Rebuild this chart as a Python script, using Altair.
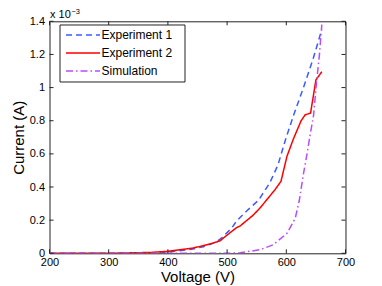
import altair as alt
import pandas as pd

# ---- data (current in units of 1e-3 A) ----
exp1_v = [200, 300, 350, 400, 440, 460, 480, 491, 508, 516, 533, 553, 572, 586, 599, 612, 629, 645, 660]
exp1_i = [0, 0, 0.001, 0.006, 0.025, 0.040, 0.065, 0.093, 0.153, 0.195, 0.255, 0.32, 0.424, 0.534, 0.69, 0.83, 1.0, 1.17, 1.35]

exp2_v = [200, 300, 370, 400, 443, 470, 488, 500, 516, 522, 544, 556, 567, 581, 591, 601, 612, 625, 632, 641, 650, 660]
exp2_i = [0, 0, 0.005, 0.012, 0.032, 0.055, 0.075, 0.11, 0.155, 0.165, 0.23, 0.275, 0.323, 0.384, 0.434, 0.584, 0.69, 0.80, 0.836, 0.846, 1.046, 1.096]

sim_v = [200, 400, 500, 522, 556, 578, 601, 615, 622, 629, 635, 640, 646, 651, 656, 660]
sim_i = [0, 0, 0, 0.003, 0.022, 0.052, 0.12, 0.21, 0.32, 0.48, 0.60, 0.71, 0.83, 1.03, 1.20, 1.38]

series_names = ["Experiment 1", "Experiment 2", "Simulation"]
series_colors = ["#3a5cff", "#ff0000", "#b84cff"]
series_dashes = [[6, 4], [1, 0], [7, 3, 1.5, 3]]

x_ticks = [200, 300, 400, 500, 600, 700]
y_ticks_mA = [0, 0.2, 0.4, 0.6, 0.8, 1.0, 1.2, 1.4]

# ---- build table ----
rows = []
for name, vs, cs in [("Experiment 1", exp1_v, exp1_i),
                     ("Experiment 2", exp2_v, exp2_i),
                     ("Simulation", sim_v, sim_i)]:
    for k, (v, c) in enumerate(zip(vs, cs)):
        rows.append({"series": name, "voltage": v, "current": c * 1e-3, "order": k})
df = pd.DataFrame(rows)

W, H = 296, 232
FONT = "Liberation Sans"

xscale = alt.Scale(domain=[200, 700], nice=False, zero=False)
yscale = alt.Scale(domain=[0, 0.0014], nice=False, zero=False)

x_axis = alt.Axis(values=x_ticks, title="Voltage (V)", ticks=False, domain=False,
                  grid=False, labelFontSize=11, labelPadding=3, titleFontSize=15,
                  titleFontWeight="normal", titlePadding=2, labelFont=FONT,
                  titleFont=FONT, labelColor="#000", titleColor="#000",
                  labelFlush=False, labelOverlap=False)
y_axis = alt.Axis(values=[v * 1e-3 for v in y_ticks_mA], title="Current (A)",
                  labelExpr="format(datum.value*1000, '.1~f')",
                  ticks=False, domain=False, grid=False, labelFontSize=11,
                  labelPadding=5, titleFontSize=15, titleFontWeight="normal",
                  titlePadding=3, labelFont=FONT, titleFont=FONT,
                  labelColor="#000", titleColor="#000",
                  labelFlush=False, labelOverlap=False)

lines = alt.Chart(df).mark_line(strokeWidth=1.5, clip=True).encode(
    x=alt.X("voltage:Q", scale=xscale, axis=x_axis, title="Voltage (V)"),
    y=alt.Y("current:Q", scale=yscale, axis=y_axis, title="Current (A)"),
    color=alt.Color("series:N", scale=alt.Scale(domain=series_names, range=series_colors), legend=None),
    strokeDash=alt.StrokeDash("series:N", scale=alt.Scale(domain=series_names, range=series_dashes), legend=None),
    order="order:Q",
)

xt = pd.DataFrame({"xt": x_ticks})
yt = pd.DataFrame({"yt": [v * 1e-3 for v in y_ticks_mA]})
TL = 4
tick_color = "#222"
xt_bottom = alt.Chart(xt).mark_rule(color=tick_color, strokeWidth=1).encode(
    x=alt.X("xt:Q", scale=xscale, axis=x_axis, title="Voltage (V)"), y=alt.value(H), y2=alt.value(H - TL))
xt_top = alt.Chart(xt).mark_rule(color=tick_color, strokeWidth=1).encode(
    x=alt.X("xt:Q", scale=xscale, axis=x_axis, title="Voltage (V)"), y=alt.value(0), y2=alt.value(TL))
yt_left = alt.Chart(yt).mark_rule(color=tick_color, strokeWidth=1).encode(
    y=alt.Y("yt:Q", scale=yscale, axis=y_axis, title="Current (A)"), x=alt.value(0), x2=alt.value(TL))
yt_right = alt.Chart(yt).mark_rule(color=tick_color, strokeWidth=1).encode(
    y=alt.Y("yt:Q", scale=yscale, axis=y_axis, title="Current (A)"), x=alt.value(W), x2=alt.value(W - TL))

one = pd.DataFrame({"a": [0]})

# exponent label "x 10^-3"
exp_main = alt.Chart(pd.DataFrame({"t": ["x 10"]})).mark_text(
    align="left", baseline="alphabetic", fontSize=11, font=FONT, color="#000").encode(
    text="t:N", x=alt.value(0.5), y=alt.value(-3.5))
exp_sup = alt.Chart(pd.DataFrame({"t": ["\u22123"]})).mark_text(
    align="left", baseline="alphabetic", fontSize=7.5, font=FONT, color="#000").encode(
    text="t:N", x=alt.value(22), y=alt.value(-7.3))

# legend box
leg_left, leg_top, leg_w, leg_h = 10.5, 3.7, 125, 57
legend_layers = [alt.Chart(one).mark_rect(fill="white", stroke="#222", strokeWidth=1).encode(
    x=alt.value(leg_left), x2=alt.value(leg_left + leg_w),
    y=alt.value(leg_top), y2=alt.value(leg_top + leg_h))]
for i, name in enumerate(series_names):
    ry = leg_top + 10 + 18 * i
    legend_layers.append(alt.Chart(one).mark_rule(
        color=series_colors[i], strokeDash=series_dashes[i], strokeWidth=1.5).encode(
        x=alt.value(leg_left + 6), x2=alt.value(leg_left + 40), y=alt.value(ry)))
    legend_layers.append(alt.Chart(pd.DataFrame({"t": [name]})).mark_text(
        align="left", baseline="middle", fontSize=12, font=FONT, color="#000").encode(
        text="t:N", x=alt.value(leg_left + 41.5), y=alt.value(ry)))

chart = alt.layer(
    lines, xt_bottom, xt_top, yt_left, yt_right, exp_main, exp_sup, *legend_layers
).properties(
    width=W, height=H,
    autosize=alt.AutoSizeParams(type="none"),
    padding={"left": 41.5, "top": 13.3, "right": 28, "bottom": 34},
    background="white",
).configure_view(stroke="#222", strokeWidth=1)

chart.save("out.html", embed_options={"renderer": "svg", "actions": False})
